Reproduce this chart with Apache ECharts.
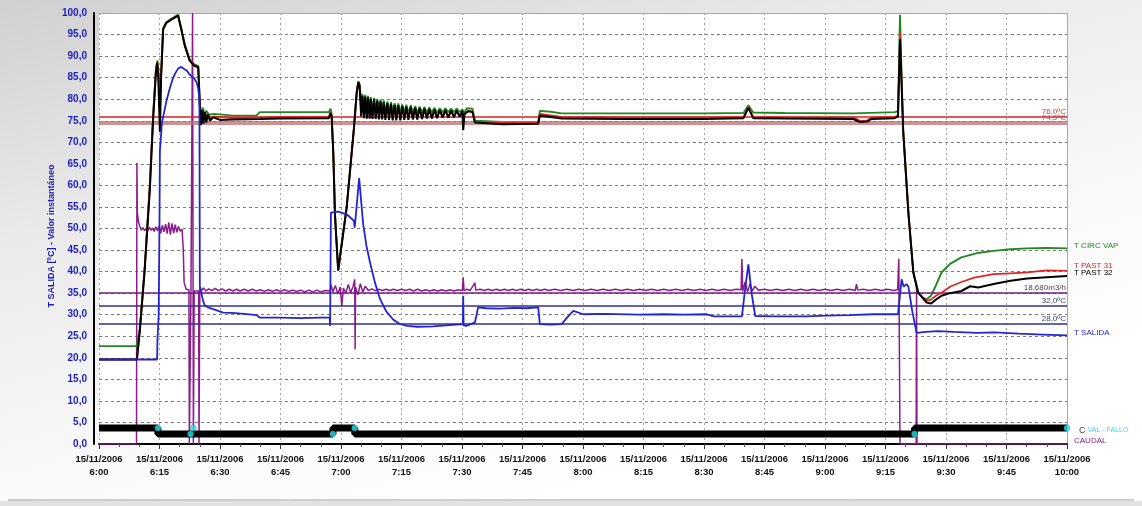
<!DOCTYPE html>
<html>
<head>
<meta charset="utf-8">
<script src="https://cdn.jsdelivr.net/npm/echarts@6/dist/echarts.min.js"></script>
<style>
html,body{margin:0;padding:0;}
body{width:1142px;height:506px;overflow:hidden;background:linear-gradient(165deg,#d0d0d0 0%,#eaeaea 30%,#f9f9f9 60%,#ffffff 80%);}
#c{width:1142px;height:506px;}
</style>
</head>
<body>
<div id="c"></div>
<script>
// ---- tick labels ----
const dateLabel = '15/11/2006';
const timeLabels = ['6:00','6:15','6:30','6:45','7:00','7:15','7:30','7:45','8:00','8:15','8:30','8:45','9:00','9:15','9:30','9:45','10:00'];
const yAxisName = 'T SALIDA [ºC] - Valor instantáneo';

// ---- series names ----
const seriesNames = ['CAUDAL','T CIRC VAP','T PAST 31','T PAST 32','T SALIDA','VAL - FALLO'];

// ---- reference lines ----
const refValues = [76.0, 74.5, 35.0, 32.0, 28.0];
const refLabels = ['76,0ºC', '74,5ºC', '18,680m3/h', '32,0ºC', '28,0ºC'];

// ---- series values: [minutes after 6:00, value] ----
const caudal = [
[0,0],[9.3,0],[9.4,65.2],[9.5,53.7],[9.8,51.5],[10.1,50.6],[10.5,49.6],[10.9,50.2],[11.3,49.5],[11.7,50.0],[12.1,49.4],[12.5,50.3],[12.9,49.6],[13.3,50.1],[13.7,49.3],[14.1,50.4],[14.5,49.5],[14.9,50.6],[15.3,48.9],[15.7,50.8],[16.1,49.2],[16.5,51.0],[16.9,48.8],[17.3,51.4],[17.7,48.6],[18.1,51.2],[18.5,48.9],[18.9,50.9],[19.3,49.1],[19.7,50.5],[20.1,49.4],[20.6,49.8],[20.9,45.0],[21.1,37.5],[21.6,35.9],[22.3,35.8],[22.4,0],[22.6,0],[22.8,35.6],[23.1,35.6],[23.2,100],[23.4,0],[23.6,35.5],[24.7,35.5],[24.8,0],[25.0,36.4],[25.4,35.6],[25.9,36.2],[26.5,35.5],[27.2,36.0],[28.0,35.6],[28.8,36.1],[29.6,35.6],[30.5,36.0],[31.4,35.5],[32.3,35.9],[33.2,35.5],[34.1,35.9],[35,35.5],[36,35.9],[37,35.5],[38,35.9],[39,35.5],[40,35.8],[41,35.4],[42,35.8],[43,35.4],[44,35.8],[45,35.4],[46,35.8],[47,35.4],[48,35.7],[49,35.4],[50,35.7],[51,35.3],[52,35.7],[53,35.3],[54,35.7],[55,35.3],[56,35.6],[57.3,35.5],[57.5,37.0],[58.0,35.3],[58.6,36.8],[59.2,34.8],[59.8,36.4],[60.2,32.0],[60.6,36.2],[61.2,35.0],[61.8,37.0],[62.4,35.1],[63.0,36.6],[63.4,38.2],[63.5,22.0],[63.6,36.4],[64.2,34.6],[64.8,37.2],[65.4,35.2],[66.0,36.6],[66.8,35.6],[67.6,36.0],[68.5,35.6],[69.4,35.9],[70.3,35.6],[71.2,35.9],[72.1,35.6],[73,35.9],[74,35.6],[75,35.9],[76,35.6],[77,35.9],[78,35.5],[79,35.9],[80,35.5],[81,35.8],[82,35.5],[83,35.8],[84,35.5],[85,35.8],[86,35.5],[87,35.8],[88,35.5],[89,35.8],[90.1,35.6],[90.3,38.7],[90.5,35.6],[91.2,35.9],[92,35.6],[93.2,37.4],[93.4,35.7],[94.5,35.9],[95.5,35.6],[96.5,35.9],[97.5,35.6],[98.5,35.9],[99.5,35.6],[100.5,35.9],[101.5,35.6],[102.5,35.9],[103.5,35.6],[104.5,35.9],[105.5,35.6],[106.5,35.9],[107.5,35.6],[108.5,35.9],[109.5,35.6],[110.5,35.9],[111.5,35.6],[113,35.9],[114.5,35.6],[116,35.9],[117.5,35.6],[119,35.9],[120.5,35.6],[122,35.9],[123.5,35.6],[125,35.9],[126.5,35.6],[128,35.9],[129.5,35.6],[131,35.9],[132.5,35.6],[134,35.9],[135.5,35.6],[137,35.9],[138.5,35.6],[140,35.9],[141.5,35.6],[143,35.9],[144.5,35.6],[146,35.9],[147.5,35.6],[149,35.9],[150.5,35.6],[152,35.9],[153.5,35.6],[155,35.9],[156.5,35.6],[158,35.9],[159.2,35.8],[159.4,42.9],[159.6,35.4],[160.2,37.6],[160.8,35.3],[161.4,37.2],[162.0,35.5],[162.6,36.6],[163.5,35.7],[165,35.9],[166.5,35.6],[168,35.9],[169.5,35.6],[171,35.9],[172.5,35.6],[174,35.9],[175.5,35.6],[177,35.9],[178.5,35.6],[180,35.9],[181.5,35.6],[183,35.9],[184.5,35.6],[186,35.9],[187.5,35.6],[187.8,37.1],[188.1,35.7],[189.5,35.9],[191,35.6],[192.5,35.9],[194,35.6],[195.5,35.9],[197,35.6],[198.0,35.8],[198.3,43.0],[198.6,0],[202.6,0],[202.7,36.6],[202.8,0],[240,0]
];

const tCircVap = [
[0,22.7],[9.3,22.7],[9.6,22.5],[10.1,26.5],[11.3,40.5],[12.6,60],[13.4,76],[14.1,86.8],[14.5,89.0],[14.8,86],[15.1,82],[15.5,88],[15.9,96.5],[16.7,97.9],[18.0,98.7],[19.6,99.6],[20.4,96.5],[21.3,92.6],[22.5,89.2],[23.7,88.0],[24.6,87.7],[25.0,78.8],[25.4,76.6],[25.8,78.0],[26.2,76.3],[26.6,77.3],[27.3,76.4],[28.5,76.6],[33.2,76.2],[39.0,76.2],[39.9,77.0],[45,77.0],[57.0,77.0],[57.4,77.8],[57.6,77.0],[58.1,67.2],[58.5,53.3],[59.3,40.5],[61.4,55.0],[63.2,73.2],[63.9,81.6],[64.3,84.2],[64.6,83.5],
[65.0,79.5],[65.3,81.2],[65.7,77.4],[66.0,81.0],[66.4,77.2],[66.7,80.8],[67.1,77.1],[67.4,80.5],[67.8,77.0],[68.2,80.3],[68.6,77.0],[69.0,80.1],[69.4,76.9],[69.8,79.9],[70.2,76.9],[70.6,79.7],[71.0,76.9],[71.5,79.5],[71.9,76.8],[72.4,79.3],[72.8,76.8],[73.3,79.1],[73.7,76.8],[74.2,79.0],[74.7,76.8],[75.2,78.8],[75.7,76.8],[76.2,78.7],[76.7,76.8],[77.3,78.6],[77.8,76.8],[78.4,78.4],[78.9,76.8],[79.5,78.3],[80.1,76.9],[80.7,78.2],[81.3,76.9],[81.9,78.1],[82.5,76.9],[83.2,78.0],[83.8,76.9],[84.5,77.9],[85.2,76.9],[85.9,77.9],[86.6,77.0],[87.3,77.8],[88.0,77.0],[88.7,77.8],[89.4,77.0],[90.1,77.6],
[90.5,76.8],[91.2,77.9],[92.6,77.8],[93.2,75.0],[93.6,74.7],[100,74.7],[108.9,74.8],[109.3,77.3],[112,77.1],[114.7,76.7],[130,76.7],[150,76.7],[159.8,76.8],[161.0,78.6],[162.2,76.9],[170,76.8],[187,76.7],[197.3,77.0],[198.1,77.2],[198.6,99.6],[199.0,85],[199.4,72.4],[200.7,53.3],[201.9,39.8],[203.1,35.1],[204.2,33.9],[205.2,33.6],[206.3,34.4],[207.5,36.8],[208.9,39.8],[211,41.8],[213.8,43.3],[217.7,44.3],[221.8,44.8],[226,45.2],[230.1,45.4],[235,45.5],[240,45.4]
];

const tPast31 = [
[0,19.6],[9.4,19.6],[10.1,26.5],[11.3,40.5],[12.6,60],[13.4,76],[14.1,86.5],[14.4,88.6],[14.7,86],[15.1,76],[15.4,86],[15.9,96.3],[16.7,97.8],[18.0,98.5],[19.6,99.4],[20.4,96.2],[21.3,92.4],[22.5,89.0],[23.7,87.8],[24.6,87.5],[25.0,78.6],[25.3,75.0],[25.7,77.2],[26.2,75.4],[26.8,76.6],[27.6,75.6],[28.5,76.0],[33.2,75.6],[39.9,75.8],[45,75.9],[57.0,75.9],[57.4,77.0],[57.7,76.2],[58.1,67.2],[58.5,53.3],[59.3,40.3],[61.4,54.9],[63.2,73.2],[63.9,81.6],[64.3,84.0],[64.6,83.3],
[65.0,77.0],[65.3,80.4],[65.7,76.3],[66.0,80.2],[66.4,76.2],[66.7,80.0],[67.1,76.2],[67.4,79.7],[67.8,76.1],[68.2,79.5],[68.6,76.1],[69.0,79.3],[69.4,76.0],[69.8,79.1],[70.2,76.0],[70.6,78.9],[71.0,76.0],[71.5,78.7],[71.9,75.9],[72.4,78.5],[72.8,75.9],[73.3,78.3],[73.7,75.9],[74.2,78.2],[74.7,75.9],[75.2,78.0],[75.7,75.9],[76.2,77.9],[76.7,76.0],[77.3,77.8],[77.8,76.0],[78.4,77.6],[78.9,76.0],[79.5,77.5],[80.1,76.0],[80.7,77.4],[81.3,76.1],[81.9,77.3],[82.5,76.1],[83.2,77.2],[83.8,76.1],[84.5,77.1],[85.2,76.2],[85.9,77.1],[86.6,76.2],[87.3,77.0],[88.0,76.2],[88.7,77.0],[89.4,76.3],[90.1,77.0],
[90.3,74.0],[90.6,76.6],[91.5,77.3],[92.6,77.2],[93.2,74.8],[93.6,74.4],[100,74.5],[108.9,74.5],[109.3,76.6],[114.7,75.9],[130,75.8],[150,75.8],[159.8,75.9],[161.0,78.2],[162.2,75.9],[170,75.8],[187,75.8],[188.7,75.0],[190.5,75.1],[191.5,75.8],[197.3,75.9],[198.1,76.2],[198.6,95.5],[199.4,72.6],[200.7,53.4],[201.9,39.9],[203.1,35.1],[205.2,33.2],[206.3,33.5],[207.5,34.4],[208.9,35.1],[211,36.5],[213.8,37.6],[217,38.6],[221.8,39.4],[226,39.6],[230.1,39.8],[235,40.3],[240,40.2]
];

const tPast32 = [
[0,19.6],[9.4,19.6],[10.1,26],[11.3,40],[12.6,59],[13.4,75],[14.1,86.0],[14.4,88.5],[14.7,85],[15.1,72.4],[15.4,85],[15.9,96.2],[16.7,97.7],[18.0,98.5],[19.6,99.4],[20.4,96.2],[21.3,92.3],[22.5,88.9],[23.7,87.7],[24.6,87.4],[25.0,78.5],[25.3,74.0],[25.6,77.5],[25.9,74.3],[26.2,77.0],[26.6,74.6],[27.0,76.5],[27.5,75.0],[28.3,75.8],[30,75.2],[33.2,75.3],[39.9,75.4],[45,75.5],[57.0,75.6],[57.4,76.8],[57.7,76.0],[58.1,67.2],[58.5,53.3],[59.3,40.2],[61.4,54.8],[63.2,73.2],[63.9,81.6],[64.3,83.9],[64.6,83.1],
[65.0,76.0],[65.3,80.8],[65.7,75.6],[66.0,80.6],[66.4,75.5],[66.7,80.4],[67.1,75.5],[67.4,80.1],[67.8,75.4],[68.2,79.9],[68.6,75.4],[69.0,79.7],[69.4,75.3],[69.8,79.5],[70.2,75.3],[70.6,79.3],[71.0,75.2],[71.5,79.1],[71.9,75.2],[72.4,78.9],[72.8,75.1],[73.3,78.7],[73.7,75.1],[74.2,78.6],[74.7,75.1],[75.2,78.4],[75.7,75.2],[76.2,78.3],[76.7,75.2],[77.3,78.2],[77.8,75.3],[78.4,78.0],[78.9,75.3],[79.5,77.9],[80.1,75.4],[80.7,77.8],[81.3,75.5],[81.9,77.7],[82.5,75.5],[83.2,77.6],[83.8,75.6],[84.5,77.5],[85.2,75.7],[85.9,77.5],[86.6,75.7],[87.3,77.4],[88.0,75.8],[88.7,77.4],[89.4,75.9],[90.1,77.3],
[90.3,72.8],[90.6,76.5],[91.5,77.2],[92.6,77.0],[93.2,74.6],[93.6,74.2],[100,74.2],[108.9,74.3],[109.3,76.2],[114.7,75.5],[130,75.4],[150,75.4],[159.8,75.6],[161.0,78.0],[162.2,75.6],[170,75.5],[187,75.4],[188.7,74.7],[190.5,74.8],[191.5,75.4],[197.3,75.6],[198.1,76.0],[198.6,93.9],[199.4,72.4],[200.7,53.3],[201.9,39.8],[203.1,35.1],[205.2,32.8],[206.3,32.6],[207.5,33.5],[208.9,34.4],[211,35.0],[213.8,35.5],[216,36.6],[218,36.3],[221.8,37.1],[226,37.9],[230.1,38.4],[235,38.7],[240,39.0]
];

const tSalida = [
[0,19.6],[14.4,19.6],[14.5,24.3],[14.8,30],[15.0,52],[15.1,68],[15.6,74.5],[16.7,79.5],[17.4,82.0],[18.3,84.8],[18.9,86.0],[19.6,87.1],[20.4,87.5],[21.1,87.0],[21.8,86.6],[22.4,85.8],[22.9,85.4],[23.6,84.8],[24.2,83.9],[24.6,82.4],[24.9,80.0],[25.0,36.7],[25.7,33.6],[26.2,32.2],[27.0,31.7],[28.3,31.3],[30.8,30.5],[33,30.4],[36,30.2],[39.1,29.9],[39.9,29.3],[45,29.3],[50,29.2],[54.8,29.3],[57.2,29.3],[57.3,27.4],[57.5,53.7],[59.3,53.9],[61.4,53.3],[63.2,51.8],[63.4,50.2],[64.5,61.7],[65.5,51.0],[66.3,46],[67.2,42.1],[68.4,37.5],[69.7,33.6],[71.2,30.8],[72.9,28.9],[74.5,27.9],[76.3,27.4],[79,27.2],[82.8,27.3],[86,27.5],[90.2,27.8],[90.3,34.4],[90.4,27.5],[91.1,27.4],[93.2,28.2],[94.0,31.7],[96,31.5],[99.4,31.4],[103,31.6],[106,31.5],[108.9,31.7],[109.3,27.8],[112,27.7],[114.7,27.8],[116.2,29.5],[117.6,30.9],[120.1,30.1],[125,30.2],[134.1,30.0],[140,30.1],[145,30.0],[150.7,30.1],[152.4,29.6],[156,29.6],[159.4,29.6],[160.2,36],[161.0,41.7],[161.8,35],[162.7,29.7],[167.2,29.6],[175.5,29.6],[180,29.8],[186,29.9],[192.0,30.1],[198.1,30.1],[198.4,30.0],[199.0,38.2],[199.5,36.5],[200.2,37.1],[200.7,36.4],[201.6,31],[202.7,25.8],[205,26.0],[208.0,26.2],[212,26.0],[217.7,25.8],[222,25.9],[228,25.6],[234,25.4],[240,25.2]
];

const valFallo = [
[0,3.7],[14.6,3.7],[14.6,2.3],[58.0,2.3],[58.0,3.7],[63.4,3.7],[63.4,2.3],[202.2,2.3],[202.2,3.7],[240,3.7]
];
const valFalloEvents = [
[14.6,3.7],[22.7,2.3],[23.4,3.7],[58.0,2.3],[63.4,3.7],[202.2,2.3],[240,3.7]
];

// ---- styles ----
const colors = {
  caudal:'#8b1c8b', circ:'#1f8a1f', p31:'#e02424', p32:'#000000', salida:'#2424d4', band:'#000000', dot:'#2fe0e6'
};
const refStyles = [
  {color:'#e01e1e', width:1.6, label:'#b04848'},
  {color:'rgba(190,110,110,0.75)', width:4, label:'#a06060'},
  {color:'#7a1a86', width:1.6, label:'#5a4060'},
  {color:'#303090', width:1.6, label:'#404070'},
  {color:'#303090', width:1.6, label:'#404070'}
];
const FONT = 'Liberation Sans, Arial, sans-serif';

const chart = echarts.init(document.getElementById('c'), null, {renderer:'canvas'});

function lineSeries(name, data, color, width, z, labelOffset){
  return {
    name, type:'line', data, showSymbol:false, symbol:'none', z,
    lineStyle:{color, width}, itemStyle:{color},
    animation:false,
    endLabel:{show:true, formatter:name, color, fontSize:8, fontFamily:FONT, distance:7, offset:labelOffset}
  };
}

const option = {
  backgroundColor:'transparent',
  animation:false,
  grid:{left:99, right:75, top:13, bottom:62, show:true, backgroundColor:'#ffffff', borderWidth:0},
  xAxis:[{
    type:'value', min:0, max:240, interval:15,
    axisLine:{show:true, onZero:false, lineStyle:{color:'#000', width:2}},
    axisTick:{show:true, length:5, inside:false, lineStyle:{color:'#333'}},
    minorTick:{show:true, splitNumber:3, length:3, lineStyle:{color:'#555'}},
    splitLine:{show:true, lineStyle:{color:'#a4a4a4', type:[2,3], width:1}},
    axisLabel:{
      margin:9, fontSize:9.5, fontWeight:'bold', color:'#111', lineHeight:13, fontFamily:FONT,
      formatter:function(v){ return dateLabel + '\n' + timeLabels[Math.round(v/15)]; }
    }
  },{
    type:'value', min:0, max:240, position:'top',
    axisLine:{show:true, onZero:false, lineStyle:{color:'#a8a8a8', width:1}},
    axisTick:{show:false}, axisLabel:{show:false}, splitLine:{show:false}
  }],
  yAxis:[{
    type:'value', min:0, max:100, interval:5, offset:5,
    axisLine:{show:true, onZero:false, lineStyle:{color:'#000', width:2}},
    axisTick:{show:false},
    splitLine:{show:true, lineStyle:{color:'#7c7c7c', type:[3,3], width:1}},
    axisLabel:{
      margin:7, fontSize:10, fontWeight:'bold', color:'#1c1cc4', fontFamily:FONT,
      formatter:function(v){ return v.toFixed(1).replace('.', ','); }
    }
  },{
    type:'value', min:0, max:100, position:'right',
    axisLine:{show:true, onZero:false, lineStyle:{color:'#a8a8a8', width:1}},
    axisTick:{show:false}, axisLabel:{show:false}, splitLine:{show:false}
  }],
  graphic:[
    {type:'text', x:52, y:236, rotation:Math.PI/2, z:10,
     style:{text:yAxisName, fill:'#1c1cc4', font:'bold 9px "Liberation Sans", Arial, sans-serif', textAlign:'center', textVerticalAlign:'middle'}},
    {type:'rect', shape:{x:0, y:501, width:1142, height:5}, style:{fill:'#e2e2e2'}, z:0},
    {type:'line', shape:{x1:8, y1:500, x2:1134, y2:500}, style:{stroke:'#a0a0a0', lineWidth:1}, z:1}
  ],
  series:[
    Object.assign(lineSeries(seriesNames[0], caudal, colors.caudal, 1.5, 3, [0,-3]), {
      markLine:{
        silent:true, symbol:'none', animation:false,
        data: refValues.map(function(v,i){
          return {yAxis:v, lineStyle:{color:refStyles[i].color, width:refStyles[i].width, type:'solid'},
            label:{show:true, position:'insideEndTop', formatter:refLabels[i], color:refStyles[i].label, fontSize:8, distance:1, fontFamily:FONT}};
        })
      }
    }),
    lineSeries(seriesNames[1], tCircVap, colors.circ, 1.9, 4, [0,-3]),
    lineSeries(seriesNames[2], tPast31, colors.p31, 1.7, 5, [0,-5]),
    lineSeries(seriesNames[3], tPast32, colors.p32, 2, 6, [0,-3]),
    lineSeries(seriesNames[4], tSalida, colors.salida, 1.8, 7, [0,-3]),
    {
      name:seriesNames[5], type:'line', data:valFallo, showSymbol:false, symbol:'none', z:8,
      lineStyle:{color:colors.band, width:7}, animation:false,
      endLabel:{show:true, distance:12, offset:[0,2], fontSize:8, fontFamily:FONT,
        formatter:'{k|C} {c|' + seriesNames[5] + '}',
        rich:{k:{color:'#404040', fontSize:9}, c:{color:colors.dot, fontSize:7}}}
    },
    {
      name:seriesNames[5] + ' ev', type:'scatter', data:valFalloEvents, symbol:'circle', symbolSize:6, z:9,
      itemStyle:{color:colors.dot, borderColor:'#1aa0b0', borderWidth:0.5}, animation:false
    }
  ]
};
chart.setOption(option);
</script>
</body>
</html>
